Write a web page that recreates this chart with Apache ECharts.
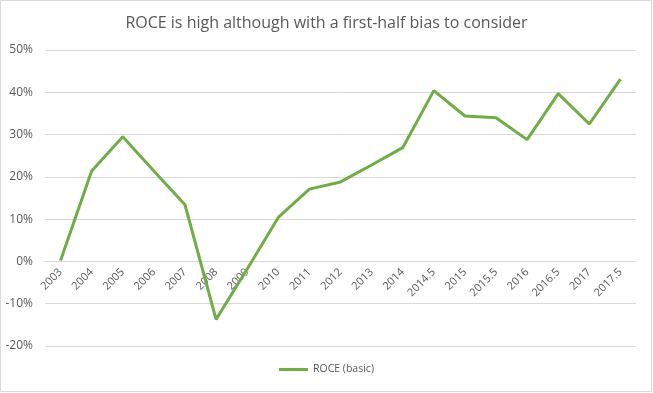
<!DOCTYPE html>
<html>
<head>
<meta charset="utf-8">
<script src="https://cdn.jsdelivr.net/npm/echarts@6/dist/echarts.min.js"></script>
<style>
html,body{margin:0;padding:0;background:#fff;}
#c{width:653px;height:393px;}
</style>
</head>
<body>
<div id="c"></div>
<script>
const categories = ['2003','2004','2005','2006','2007','2008','2009','2010','2011','2012','2013','2014','2014.5','2015','2015.5','2016','2016.5','2017','2017.5'];
const roceValues = [0.2, 21.4, 29.5, 21.4, 13.4, -13.7, -1.8, 10.4, 17.1, 18.8, 22.8, 26.9, 40.4, 34.4, 34.0, 28.8, 39.7, 32.5, 43.1];
const seriesName = 'ROCE (basic)';
const titleText = 'ROCE is high although with a first-half bias to consider';
const yMin = -20, yMax = 50, yStep = 10;

const W = 653, H = 393;
const gridTop = 50, gridBottom = 47;
const plotH = H - gridTop - gridBottom;
const zeroOffset = -plotH * (0 - yMin) / (yMax - yMin);

const chart = echarts.init(document.getElementById('c'), null, {renderer:'canvas'});
chart.setOption({
  animation:false,
  backgroundColor:'#fff',
  title:{
    text:titleText,
    left:'center',
    top:10,
    textStyle:{fontFamily:'Open Sans, sans-serif',fontSize:16,fontWeight:'normal',color:'#595959'}
  },
  graphic:[{type:'rect',shape:{x:0.5,y:0.5,width:651,height:391},style:{fill:'none',stroke:'#d9d9d9',lineWidth:1},silent:true}],
  legend:{
    bottom:13,
    left:'center',
    itemWidth:29,
    itemHeight:3,
    itemGap:10,
    icon:'rect',
    textStyle:{fontFamily:'Open Sans, sans-serif',fontSize:10.5,color:'#595959'},
    data:[seriesName]
  },
  grid:{left:45,right:17,top:gridTop,bottom:gridBottom,containLabel:false},
  xAxis:{
    type:'category',
    data:categories,
    boundaryGap:true,
    offset:zeroOffset,
    axisLine:{show:true,onZero:false,lineStyle:{color:'#d9d9d9'}},
    axisTick:{show:false},
    axisLabel:{rotate:45,interval:0,margin:9,fontFamily:'Open Sans, sans-serif',fontSize:11,color:'#595959'}
  },
  yAxis:{
    type:'value',
    min:yMin,max:yMax,interval:yStep,
    axisLine:{show:false},
    axisTick:{show:false},
    splitLine:{lineStyle:{color:'#d9d9d9'}},
    axisLabel:{formatter:'{value}%',margin:12,fontFamily:'Open Sans, sans-serif',fontSize:12,color:'#595959'}
  },
  series:[{
    name:seriesName,
    type:'line',
    data:roceValues,
    symbol:'none',
    lineStyle:{color:'#70AD47',width:3},
    itemStyle:{color:'#70AD47'}
  }]
});
</script>
</body>
</html>
